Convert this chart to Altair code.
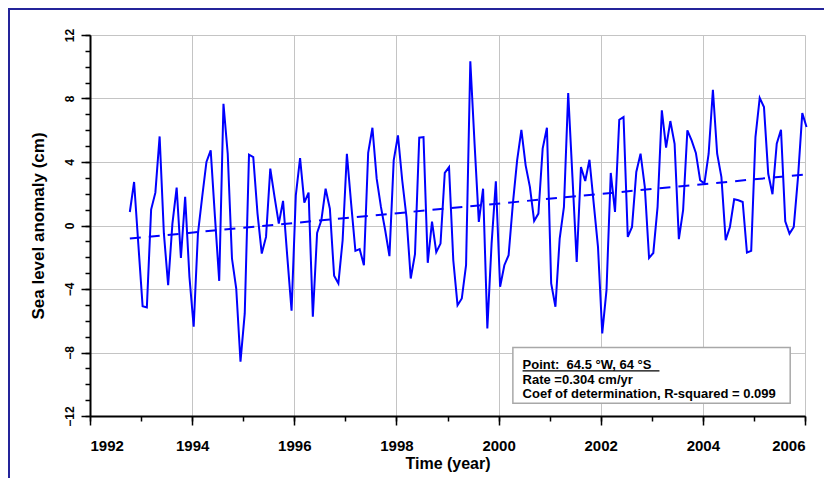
import altair as alt
import pandas as pd

# ---------------- data ----------------
start_year = 1992.78  # first monthly sample (Oct 1992)
anomaly = [
    0.85, 2.74, -1.2, -5.08, -5.16, 1.0, 2.07, 5.61, -0.5, -3.76,
    0.1, 2.39, -2.04, 1.8, -3.23, -6.38, -0.51, 1.8, 4.0, 4.73,
    0.54, -3.49, 7.67, 4.52, -2.08, -3.97, -8.58, -5.54, 4.46, 4.31,
    0.75, -1.77, -0.72, 3.58, 1.8, 0.12, 1.55, -1.98, -5.37, 1.9,
    4.25, 1.44, 2.07, -5.75, -0.47, 0.33, 2.32, 1.06, -3.17, -3.65,
    -0.93, 4.52, 1.38, -1.6, -1.49, -2.5, 4.58, 6.16, 2.95, 1.17,
    -0.3, -1.93, 4.1, 5.68, 2.85, 0.54, -3.34, -1.81, 5.53, 5.57,
    -2.35, 0.25, -1.68, -1.14, 3.31, 3.68, -2.19, -5.02, -4.6, -2.5,
    10.35, 5.15, 0.23, 2.32, -6.48, -1.14, 2.78, -3.86, -2.5, -1.87,
    1.38, 4.1, 6.03, 3.79, 2.43, 0.29, 0.75, 4.84, 6.16, -3.65,
    -5.12, -0.82, 1.17, 8.34, 3.05, -2.29, 3.68, 2.8, 4.14, 1.38,
    -1.35, -6.8, -4.07, 3.31, 0.86, 6.66, 6.83, -0.72, -0.09, 3.37,
    4.52, 2.43, -2.04, -1.73, 1.17, 7.25, 4.9, 6.58, 5.15, -0.86,
    0.96, 5.99, 5.36, 4.57, 2.85, 2.64, 4.52, 8.55, 4.52, 3.05,
    -0.93, -0.09, 1.65, 1.59, 1.48, -1.7, -1.6, 5.57, 8.04, 7.46,
    3.26, 1.97, 5.15, 6.03, 0.27, -0.51, -0.09, 3.05, 7.08, 6.2,
]
years = [round(start_year + i / 12, 4) for i in range(len(anomaly))]

trend_years = [1992.78, 2006.03]
trend_values = [-0.82, 3.22]

x_major = [1992, 1994, 1996, 1998, 2000, 2002, 2004, 2006]
x_minor = list(range(1992, 2007))
y_major = [-12, -8, -4, 0, 4, 8, 12]
y_minor = list(range(-12, 13))

box_x = [2000.28, 2005.71]
box_y = [-7.68, -11.2]
legend_lines = [
    "Point:\u00a0 64.5 °W, 64 °S",
    "Rate =0.304 cm/yr",
    "Coef of determination, R-squared = 0.099",
]
legend_x = 2000.47
legend_y = [-9.02, -9.98, -10.88]
underline_x = [2000.47, 2003.15]
underline_y = -9.16

# ---------------- frames ----------------
series = pd.DataFrame({"year": years, "anomaly": anomaly})
trend = pd.DataFrame({"year": trend_years, "anomaly": trend_values})
box = pd.DataFrame({"x": [box_x[0]], "x2": [box_x[1]], "y": [box_y[0]], "y2": [box_y[1]]})
legend = pd.DataFrame({"x": [legend_x] * 3, "y": legend_y, "t": legend_lines})
uline = pd.DataFrame({"x": [underline_x[0]], "x2": [underline_x[1]], "y": [underline_y]})

FONT = "Liberation Sans"
xscale = alt.Scale(domain=[1992, 2006], nice=False, zero=False)
yscale = alt.Scale(domain=[-12, 12], nice=False, zero=False)
BLUE = "#0000FF"

x_major_axis = alt.Axis(
    values=x_major, format="d", orient="bottom",
    labelFont=FONT, labelFontSize=15, labelFontWeight="bold", labelColor="black",
    labelBaseline="alphabetic", labelPadding=25,
    tickSize=9, tickWidth=1.5, tickColor="black",
    domainColor="black", domainWidth=2,
    grid=True, gridColor="#c4c4c4", gridWidth=1,
    title="Time (year)", titleFont=FONT, titleFontSize=16, titleFontWeight="bold",
    titleColor="black", titleBaseline="alphabetic", titleAlign="center",
    titleX=357.5, titleY=52,
)
y_major_axis = alt.Axis(
    values=y_major, format="d", orient="left",
    labelFont=FONT, labelFontSize=12, labelFontWeight="bold", labelColor="black",
    labelAngle=270, labelAlign="center", labelBaseline="alphabetic", labelPadding=8,
    tickSize=9, tickWidth=1.5, tickColor="black",
    domainColor="black", domainWidth=2,
    grid=True, gridColor="#c4c4c4", gridWidth=1,
    title="Sea level anomaly (cm)", titleFont=FONT, titleFontSize=17, titleFontWeight="bold",
    titleColor="black", titleBaseline="alphabetic", titleAlign="center", titleAngle=270,
    titleX=-46.7, titleY=190.5,
)
x_minor_axis = alt.Axis(
    values=x_minor, orient="bottom", labels=False, domain=False, grid=False,
    tickSize=5, tickWidth=1.5, tickColor="black", title=None,
)
y_minor_axis = alt.Axis(
    values=y_minor, orient="left", labels=False, domain=False, grid=False,
    tickSize=5, tickWidth=1.5, tickColor="black", title=None,
)

line = alt.Chart(series).mark_line(color=BLUE, strokeWidth=2).encode(
    x=alt.X("year:Q", scale=xscale, axis=x_major_axis),
    y=alt.Y("anomaly:Q", scale=yscale, axis=y_major_axis),
)

trend_line = alt.Chart(trend).mark_line(color=BLUE, strokeWidth=2, strokeDash=[11, 8]).encode(
    x=alt.X("year:Q", scale=xscale, axis=x_minor_axis),
    y=alt.Y("anomaly:Q", scale=yscale, axis=y_minor_axis),
)

box_mark = alt.Chart(box).mark_rect(fill="white", stroke="#a8a8a8", strokeWidth=1.5).encode(
    x=alt.X("x:Q", scale=xscale, axis=None),
    x2="x2:Q",
    y=alt.Y("y:Q", scale=yscale, axis=None),
    y2="y2:Q",
)

legend_text = alt.Chart(legend).mark_text(
    align="left", baseline="alphabetic", font=FONT, fontSize=13, fontWeight="bold", color="black"
).encode(
    x=alt.X("x:Q", scale=xscale, axis=None),
    y=alt.Y("y:Q", scale=yscale, axis=None),
    text="t:N",
)

underline = alt.Chart(uline).mark_rule(color="black", strokeWidth=1.2).encode(
    x=alt.X("x:Q", scale=xscale, axis=None),
    x2="x2:Q",
    y=alt.Y("y:Q", scale=yscale, axis=None),
)

# outer figure frame: top and left edges only (others fall outside the picture)
dummy = pd.DataFrame({"a": [0]})
frame_top = alt.Chart(dummy).mark_rule(color="#24249a", strokeWidth=2).encode(
    x=alt.value(-82), x2=alt.value(734), y=alt.value(-26),
)
frame_left = alt.Chart(dummy).mark_rule(color="#24249a", strokeWidth=2).encode(
    x=alt.value(-81), y=alt.value(-27), y2=alt.value(451),
)

chart = alt.layer(
    line, trend_line, box_mark, legend_text, underline, frame_top, frame_left
).resolve_axis(
    x="independent", y="independent"
).properties(
    width=715,
    height=381,
    autosize=alt.AutoSizeParams(type="none"),
    padding={"left": 82, "top": 27, "right": 19, "bottom": 62},
    background="white",
).configure_view(stroke="transparent")

chart.save("out.html", embed_options={"renderer": "svg", "actions": False})
